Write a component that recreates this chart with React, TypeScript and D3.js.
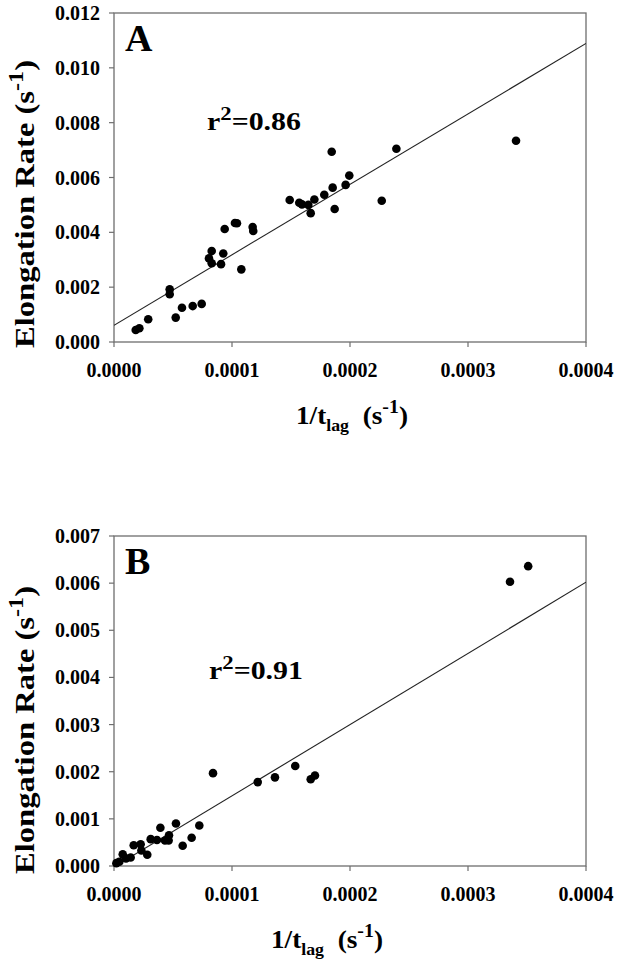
import React from 'react';
import * as d3 from 'd3';

// panel A: 1/tlag vs elongation rate
const aX = [0.0000184, 0.0000215, 0.000029, 0.0000472, 0.0000472, 0.0000523, 0.0000576, 0.0000667, 0.0000743, 0.0000805, 0.0000828, 0.0000828, 0.0000907, 0.0000926, 0.0000938, 0.0001025, 0.0001042, 0.0001079, 0.0001175, 0.000118, 0.0001489, 0.000157, 0.0001593, 0.0001647, 0.0001667, 0.0001698, 0.0001782, 0.0001845, 0.0001853, 0.000187, 0.0001963, 0.0001994, 0.0002269, 0.0002393, 0.0003407];
const aY = [0.00044, 0.0005, 0.00083, 0.00192, 0.00174, 0.00089, 0.00125, 0.00131, 0.00139, 0.00305, 0.00332, 0.00287, 0.00284, 0.00323, 0.00412, 0.00434, 0.00433, 0.00265, 0.00419, 0.00405, 0.00518, 0.00508, 0.00502, 0.005, 0.0047, 0.0052, 0.00537, 0.00694, 0.00563, 0.00485, 0.00573, 0.00607, 0.00515, 0.00705, 0.00734];
const aFit = [0.00061, 25.7]; // intercept, slope

// panel B
const bX = [0.000002, 0.0000045, 0.0000074, 0.0000102, 0.0000141, 0.0000167, 0.0000226, 0.0000232, 0.0000282, 0.0000311, 0.0000364, 0.0000393, 0.0000432, 0.0000466, 0.0000463, 0.0000525, 0.0000582, 0.0000658, 0.0000723, 0.0000839, 0.0001218, 0.0001364, 0.0001536, 0.0001667, 0.0001703, 0.0003356, 0.000351];
const bY = [0.00006, 0.00009, 0.00025, 0.00016, 0.00018, 0.00044, 0.00046, 0.00033, 0.00024, 0.00057, 0.00055, 0.00081, 0.00054, 0.00065, 0.00054, 0.0009, 0.00043, 0.0006, 0.00086, 0.00197, 0.00178, 0.00188, 0.00212, 0.00184, 0.00192, 0.00603, 0.00636];
const bFit = [-0.00002, 15.1];

const xTicks = [0, 0.0001, 0.0002, 0.0003, 0.0004];
const aYTicks = [0, 0.002, 0.004, 0.006, 0.008, 0.01, 0.012];
const bYTicks = [0, 0.001, 0.002, 0.003, 0.004, 0.005, 0.006, 0.007];

const FONT = '"Liberation Serif", "Times New Roman", serif';
const AXIS = '#6e6e6e';

function Panel({ top, bottom, xs, ys, fit, yTicks, letter, r2, r2y, r2x, xTitleX, yTitleY }) {
  const left = 114, right = 586;
  const x = d3.scaleLinear().domain([0, 0.0004]).range([left, right]);
  const y = d3.scaleLinear().domain([0, yTicks[yTicks.length - 1]]).range([bottom, top]);
  const line = d3.line<number>().x(d => x(d)).y(d => y(fit[0] + fit[1] * d));
  const clipId = 'clip-' + letter;
  const fmtX = d3.format('.4f');
  const fmtY = d3.format('.3f');

  return (
    <g fontFamily={FONT} fontWeight="bold" fill="#000">
      <defs>
        <clipPath id={clipId}>
          <rect x={left} y={top} width={right - left} height={bottom - top} />
        </clipPath>
      </defs>
      <rect x={left} y={top} width={right - left} height={bottom - top} fill="none" stroke={AXIS} strokeWidth={1.3} />
      {yTicks.map(t => (
        <g key={t}>
          <line x1={left - 5} x2={left} y1={y(t)} y2={y(t)} stroke={AXIS} strokeWidth={1.2} />
          <text x={left - 14} y={y(t) + 7} textAnchor="end" fontSize={20}>{fmtY(t)}</text>
        </g>
      ))}
      {xTicks.map(t => (
        <g key={t}>
          <line x1={x(t)} x2={x(t)} y1={bottom} y2={bottom + 5} stroke={AXIS} strokeWidth={1.2} />
          <text x={x(t)} y={bottom + 35} textAnchor="middle" fontSize={20}>{fmtX(t)}</text>
        </g>
      ))}
      <path d={line([0, 0.0004]) || ''} fill="none" stroke="#222" strokeWidth={1.1} clipPath={`url(#${clipId})`} />
      {xs.map((v, i) => (
        <circle key={i} cx={x(v)} cy={y(ys[i])} r={4.3} fill="#000" />
      ))}
      <text x={125} y={top + 38} fontSize={38}>{letter}</text>
      <text x={r2x} y={r2y} fontSize={25} textLength={94} lengthAdjust="spacingAndGlyphs">
        r<tspan dy={-10} fontSize={19}>2</tspan><tspan dy={10}>={r2}</tspan>
      </text>
      <text x={xTitleX} y={bottom + 82} textAnchor="middle" fontSize={26} textLength={112} lengthAdjust="spacingAndGlyphs">
        1/t<tspan dy={7} fontSize={17}>lag</tspan><tspan dy={-7}>{'\u00a0\u00a0'}(s</tspan>
        <tspan dy={-11} fontSize={19}>-1</tspan><tspan dy={11}>)</tspan>
      </text>
      <text transform={`translate(34,${yTitleY}) rotate(-90)`} textAnchor="middle" fontSize={27} textLength={288} lengthAdjust="spacingAndGlyphs">
        Elongation Rate (s<tspan dy={-11} fontSize={20}>-1</tspan><tspan dy={11}>)</tspan>
      </text>
    </g>
  );
}

export default function App() {
  return (
    <svg width={618} height={964} style={{ position: 'absolute', left: 0, top: 0, background: '#fff' }}>
      <Panel top={13} bottom={342} xs={aX} ys={aY} fit={aFit} yTicks={aYTicks} letter="A" r2="0.86"
        r2x={207} r2y={130} xTitleX={352} yTitleY={204} />
      <Panel top={536} bottom={866} xs={bX} ys={bY} fit={bFit} yTicks={bYTicks} letter="B" r2="0.91"
        r2x={209} r2y={679} xTitleX={327} yTitleY={730} />
    </svg>
  );
}
